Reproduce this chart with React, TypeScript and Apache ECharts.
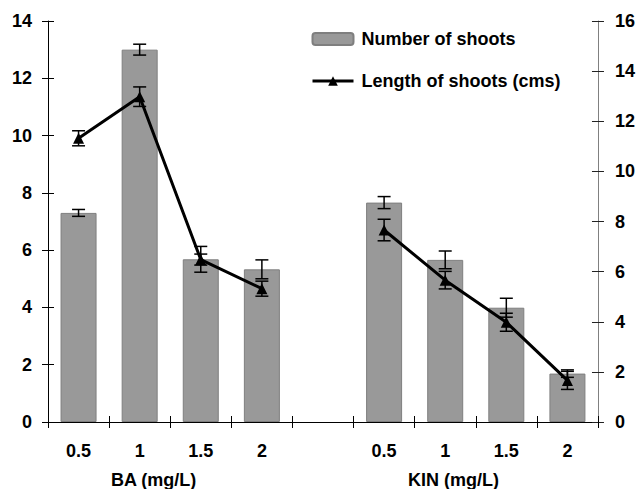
import React, { useEffect, useRef } from "react";
import * as echarts from "echarts";

const groupNames = ["BA (mg/L)", "KIN (mg/L)"];
// categories: BA doses, a gap, KIN doses
const categories = ["BA-0.5", "BA-1", "BA-1.5", "BA-2", "gap", "KIN-0.5", "KIN-1", "KIN-1.5", "KIN-2"];
const shootNumber = [7.3, 13.0, 5.68, 5.33, null, 7.66, 5.66, 3.99, 1.69];
const shootNumberErr = [0.12, 0.19, 0.45, 0.33, null, 0.21, 0.31, 0.33, 0.13];
const shootLength = [11.32, 12.98, 6.48, 5.32, null, 7.66, 5.66, 3.98, 1.66];
const shootLengthErr = [0.3, 0.39, 0.22, 0.3, null, 0.43, 0.35, 0.36, 0.36];
const leftTicks = { min: 0, max: 14, interval: 2 };
const rightTicks = { min: 0, max: 16, interval: 2 };

const FONT = "'Liberation Sans', Arial, sans-serif";
const FS = 18;

function errData(vals: (number | null)[], errs: (number | null)[]) {
  const out: any[] = [];
  vals.forEach((v, i) => {
    const e = errs[i];
    if (v != null && e != null) out.push([i, v - e, v + e]);
  });
  return out;
}

function errRender(params: any, api: any) {
  const x = api.value(0);
  const lo = api.coord([x, api.value(1)]);
  const hi = api.coord([x, api.value(2)]);
  const hw = 6.5;
  const style = { stroke: "#000", lineWidth: 1.5 };
  return {
    type: "group",
    children: [
      { type: "line", shape: { x1: lo[0], y1: lo[1], x2: hi[0], y2: hi[1] }, style },
      { type: "line", shape: { x1: lo[0] - hw, y1: lo[1], x2: lo[0] + hw, y2: lo[1] }, style },
      { type: "line", shape: { x1: hi[0] - hw, y1: hi[1], x2: hi[0] + hw, y2: hi[1] }, style },
    ],
  };
}

export default function App() {
  const ref = useRef<HTMLDivElement>(null);
  useEffect(() => {
    document.body.style.margin = "0";
    const chart = echarts.init(ref.current!, null, { renderer: "svg" });
    const labelStyle = { fontFamily: FONT, fontWeight: "bold" as const, fontSize: FS, color: "#000" };
    const catFormatter = (v: string) => (v === "gap" ? "" : v.split("-")[1]);
    chart.setOption({
      animation: false,
      grid: { left: 48, right: 40, top: 21, bottom: 67 },
      legend: {
        orient: "vertical",
        left: 311,
        top: 30,
        padding: 0,
        itemWidth: 41,
        itemHeight: 12,
        itemGap: 24,
        lineStyle: { width: 3 },
        textStyle: { ...labelStyle, padding: [0, 0, 0, 3] },
        data: ["Number of shoots", "Length of shoots (cms)"],
      },
      xAxis: [
        {
          type: "category",
          position: "bottom",
          data: categories,
          axisLine: { lineStyle: { color: "#000", width: 1 } },
          axisTick: { show: true, length: 6, lineStyle: { color: "#000" } },
          axisLabel: { ...labelStyle, margin: 20, formatter: catFormatter, interval: 0 },
          splitLine: { show: false },
        },
        {
          type: "category",
          position: "bottom",
          data: categories,
          axisLine: { show: false },
          axisTick: { show: true, inside: true, length: 6, lineStyle: { color: "#000" } },
          axisLabel: { show: false },
          splitLine: { show: false },
        },
      ],
      yAxis: [
        {
          type: "value",
          position: "left",
          ...leftTicks,
          axisLine: { show: true, lineStyle: { color: "#000", width: 1 } },
          axisTick: { show: true, length: 6, lineStyle: { color: "#000" } },
          axisLabel: { ...labelStyle, margin: 16 },
          splitLine: { show: false },
        },
        {
          type: "value",
          position: "right",
          ...rightTicks,
          axisLine: { show: true, lineStyle: { color: "#808080", width: 1 } },
          axisTick: { show: true, length: 6, lineStyle: { color: "#222" } },
          axisLabel: { ...labelStyle, margin: 17 },
          splitLine: { show: false },
        },
        {
          type: "value",
          position: "left",
          ...leftTicks,
          axisLine: { show: false },
          axisTick: { show: true, inside: true, length: 6, lineStyle: { color: "#000" } },
          axisLabel: { show: false },
          splitLine: { show: false },
        },
        {
          type: "value",
          position: "right",
          ...rightTicks,
          axisLine: { show: false },
          axisTick: { show: true, inside: true, length: 6, lineStyle: { color: "#222" } },
          axisLabel: { show: false },
          splitLine: { show: false },
        },
      ],
      series: [
        {
          name: "Number of shoots",
          type: "bar",
          xAxisIndex: 0,
          yAxisIndex: 0,
          barWidth: 36,
          data: shootNumber,
          itemStyle: { color: "#999999", borderColor: "#7f7f7f", borderWidth: 1 },
        },
        {
          type: "custom",
          xAxisIndex: 0,
          yAxisIndex: 0,
          renderItem: errRender,
          data: errData(shootNumber, shootNumberErr),
          encode: { x: 0, y: [1, 2] },
          silent: true,
          z: 3,
        },
        {
          name: "Length of shoots (cms)",
          type: "line",
          xAxisIndex: 0,
          yAxisIndex: 1,
          data: shootLength,
          connectNulls: false,
          symbol: "triangle",
          symbolSize: 11,
          lineStyle: { color: "#000", width: 3 },
          itemStyle: { color: "#000" },
          z: 4,
        },
        {
          type: "custom",
          xAxisIndex: 0,
          yAxisIndex: 1,
          renderItem: errRender,
          data: errData(shootLength, shootLengthErr),
          encode: { x: 0, y: [1, 2] },
          silent: true,
          z: 5,
        },
      ],
      graphic: [
        {
          type: "text",
          left: 111,
          top: 471,
          style: { text: groupNames[0], font: `bold ${FS}px ${FONT}`, fill: "#000" },
        },
        {
          type: "text",
          left: 408,
          top: 471,
          style: { text: groupNames[1], font: `bold ${FS}px ${FONT}`, fill: "#000" },
        },
      ],
    });
    return () => chart.dispose();
  }, []);
  return <div ref={ref} style={{ width: 638, height: 489 }} />;
}
